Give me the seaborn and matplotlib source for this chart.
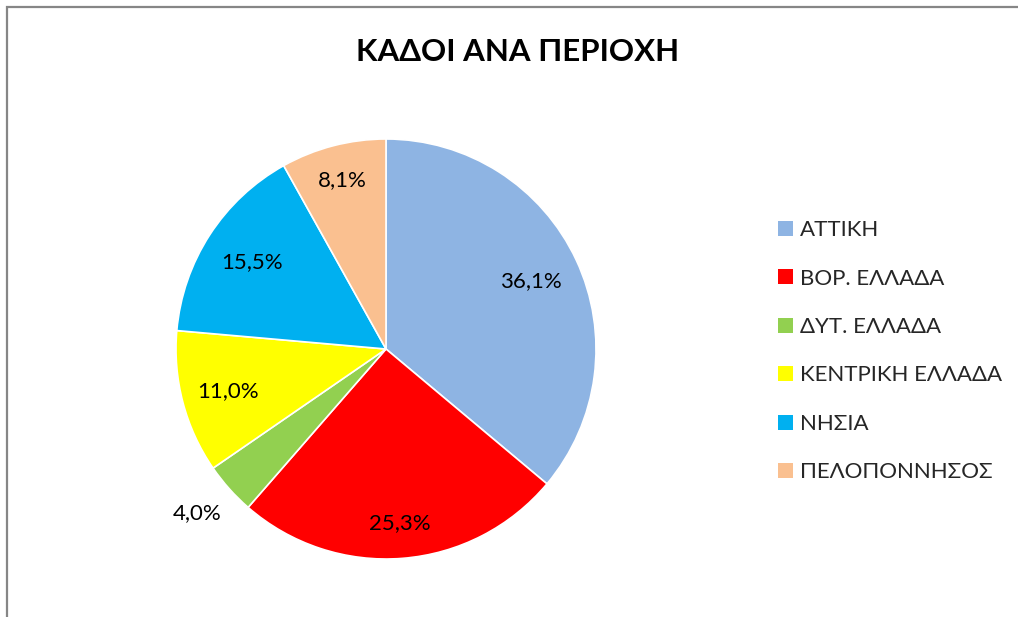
import matplotlib
matplotlib.use('Agg')
import matplotlib.pyplot as plt
import seaborn as sns
import numpy as np
from matplotlib.patches import Rectangle, Patch

sns.set_theme(style='white')
plt.rcParams['font.family'] = ['Lato', 'DejaVu Sans']

regions = ['ΑΤΤΙΚΗ', 'ΒΟΡ. ΕΛΛΑΔΑ', 'ΔΥΤ. ΕΛΛΑΔΑ', 'ΚΕΝΤΡΙΚΗ ΕΛΛΑΔΑ', 'ΝΗΣΙΑ', 'ΠΕΛΟΠΟΝΝΗΣΟΣ']
shares = [36.1, 25.3, 4.0, 11.0, 15.5, 8.1]
colors = ['#8EB4E3', '#FF0000', '#92D050', '#FFFF00', '#00B0F0', '#FAC090']
label_dist = [0.76, 0.83, 1.2, 0.78, 0.76, 0.83]

W, H = 1018, 617
fig = plt.figure(figsize=(W / 100, H / 100), dpi=100)

# grey frame (only top/left visible in reference)
fig.patches.append(Rectangle((7 / W, -0.1), 1.2, 1 - 7 / H + 0.1, transform=fig.transFigure,
                             fill=False, edgecolor='#868686', linewidth=1.6))

cx, cy, r = 386, 349, 210
ax = fig.add_axes([(cx - r) / W, (H - cy - r) / H, 2 * r / W, 2 * r / H])

wedges, texts, autotexts = ax.pie(
    shares, colors=colors, startangle=90, counterclock=False,
    autopct=lambda p: f'{p:.1f}%'.replace('.', ','), pctdistance=0.78,
    wedgeprops=dict(linewidth=1.2, edgecolor='white'),
    textprops=dict(fontsize=16, color='black'))
ax.set_xlim(-1, 1)
ax.set_ylim(-1, 1)
ax.set_aspect('equal')

for w, t, d in zip(wedges, autotexts, label_dist):
    ang = np.deg2rad((w.theta1 + w.theta2) / 2)
    t.set_position((d * np.cos(ang), d * np.sin(ang)))
# small slice label sits outside, below-left
autotexts[2].set_position((-0.90, -0.78))

fig.text(518 / W, 1 - 52 / H, 'ΚΑΔΟΙ ΑΝΑ ΠΕΡΙΟΧΗ', ha='center', va='center',
         fontsize=22.5, fontweight='bold', color='black')

handles = [Patch(facecolor=c, edgecolor='none') for c in colors]
fig.legend(handles, regions, loc='upper left', bbox_to_anchor=(767 / W, 1 - 209 / H),
           frameon=False, fontsize=16, handlelength=0.65, handleheight=0.65,
           handletextpad=0.35, labelspacing=1.28, borderpad=0)

fig.savefig('out.png', dpi=100)
